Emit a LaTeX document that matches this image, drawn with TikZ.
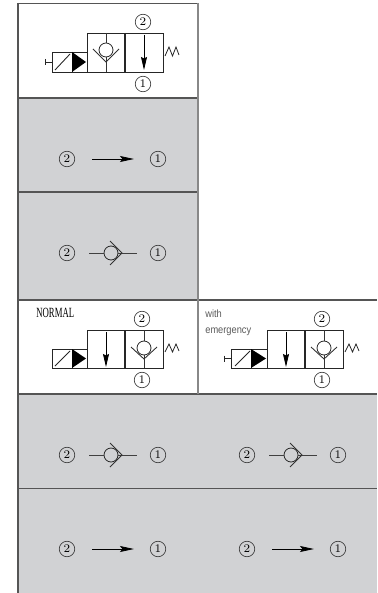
\documentclass[tikz,border=0pt]{standalone}
\usepackage{xcolor}
\usepackage{graphicx}
\usepackage{fontspec}
\usetikzlibrary{arrows.meta}
\newfontfamily\labelsans{Liberation Sans}
\newfontfamily\labelserif{Liberation Serif}
\definecolor{panelgrey}{HTML}{D1D2D4}
\definecolor{rulegrey}{HTML}{555555}
\tikzset{
  port/.style={draw=black!80, circle, line width=0.35pt, inner sep=0pt, minimum size=3.1mm, font=\fontsize{6.6}{6.6}\selectfont},
  ball/.style={draw=black!85, circle, line width=0.45pt, inner sep=0pt, minimum size=2.8mm},
  valve/.style={draw=black!85, line width=0.5pt},
  seat/.style={draw=black!80, line width=0.5pt},
  flowline/.style={draw=black, line width=0.45pt, -{Stealth[length=2.8mm, width=1.2mm, inset=0.5mm]}, shorten <=3.4mm, shorten >=3.2mm},
  stemline/.style={draw=black, line width=0.5pt, -{Stealth[length=2.6mm, width=1.2mm, inset=0.3mm]}},
  passline/.style={draw=black!75, line width=0.55pt},
  cellrule/.style={draw=rulegrey, line width=0.6pt}
}
\begin{document}
\begin{tikzpicture}[x=0.2mm, y=-0.2mm]
\useasboundingbox (0,0) rectangle (377,593);

% panels
\fill[panelgrey] (18,98) rectangle (198,300);
\fill[panelgrey] (18,394) rectangle (377,593);
\draw[cellrule] (18,3.5) -- (198,3.5);
\draw[cellrule] (18,98) -- (198,98);
\draw[cellrule] (18,192) -- (198,192);
\draw[cellrule] (18,300) -- (377,300);
\draw[cellrule] (18,394) -- (377,394);
\draw[cellrule] (18,488.5) -- (377,488.5);
\draw[cellrule, line width=0.85pt] (18,3) -- (18,593);
\draw[cellrule, line width=0.7pt, draw=rulegrey!70] (198,3) -- (198,394);

% top valve
\draw[valve] (87,33) rectangle (163,72);
\draw[valve, line width=0.9pt] (125,33) -- (125,72);
\draw[valve] (52,52) rectangle (87,72);
\draw[valve] (72,52) -- (72,72);
\draw[valve] (55,70) -- (70,54);
\fill (72,52) -- (86,62) -- (72,72) -- cycle;
\draw[valve] (52,62) -- (45,62) (45,59) -- (45,65);
\node[ball] (ball1) at (106,50) {};
\draw[seat] (93,49) -- (106,62) -- (119,49);
\draw[seat] (106,33) -- (ball1);
\draw[seat] (ball1) -- (106,72);
\draw[stemline] (144,35) -- (144,70);
\draw[valve, line width=0.45pt] (165,56) -- (169,47) -- (172.5,56) -- (176,47) -- (179,55);
\node[port] (p2a) at (143,22) {2};
\node[port] (p1a) at (143,84) {1};

% first row, open passage
\node[port] (p2b) at (67,159) {2};
\node[port] (p1b) at (158,159) {1};
\draw[flowline] (p2b) -- (p1b);

% second row, check valve
\node[port] (p2c) at (67,253) {2};
\node[port] (p1c) at (158,253) {1};
\node[ball] (ball2) at (111,253) {};
\draw[passline] (89,253) -- (ball2);
\draw[passline] (ball2) -- (137,253);
\draw[seat] (110,241) -- (122,253) -- (110,265);

% normal valve
\node[anchor=west, inner sep=0pt] (normal) at (36,313) {\scalebox{0.62}[1]{\labelserif\fontsize{8}{8}\selectfont NORMAL}};
\draw[valve] (87,330) rectangle (163,368);
\draw[valve, line width=0.9pt] (125,330) -- (125,368);
\draw[valve] (52,349) rectangle (87,368);
\draw[valve] (72,349) -- (72,368);
\draw[valve] (55,366) -- (70,351);
\fill (72,349) -- (86,358.5) -- (72,368) -- cycle;
\draw[stemline] (106,332) -- (106,367);
\node[ball] (ball3) at (144,348) {};
\draw[seat] (131,347) -- (144,359) -- (157,347);
\draw[seat] (144,330) -- (ball3);
\draw[seat] (ball3) -- (144,368);
\draw[valve, line width=0.45pt] (165,352) -- (169,344) -- (172.5,352) -- (176,344) -- (179,351);
\node[port] (p2d) at (142,319) {2};
\node[port] (p1d) at (142,380) {1};

% emergency valve
\node[anchor=north west, inner sep=0pt, align=left, text=black!65] (emerg) at (205,307) {\scalebox{0.88}[1]{\labelsans\fontsize{6}{8.6}\selectfont\begin{tabular}{@{}l@{}}with\\emergency\end{tabular}}};
\draw[valve] (267,330) rectangle (343,368);
\draw[valve, line width=0.9pt] (305,330) -- (305,368);
\draw[valve] (231,349) rectangle (267,368);
\draw[valve] (251,349) -- (251,368);
\draw[valve] (235,366) -- (250,351);
\fill (251,349) -- (266,358.5) -- (251,368) -- cycle;
\draw[valve] (231,358.5) -- (224,358.5) (224,355.5) -- (224,361.5);
\draw[stemline] (286,332) -- (286,367);
\node[ball] (ball4) at (324,348) {};
\draw[seat] (311,347) -- (324,359) -- (337,347);
\draw[seat] (324,330) -- (ball4);
\draw[seat] (ball4) -- (324,368);
\draw[valve, line width=0.45pt] (345,352) -- (349,344) -- (352.5,352) -- (356,344) -- (359,351);
\node[port] (p2e) at (322,319) {2};
\node[port] (p1e) at (322,380) {1};

% third row, check valves
\node[port] (p2f) at (67,455) {2};
\node[port] (p1f) at (158,455) {1};
\node[ball] (ball5) at (111,455) {};
\draw[passline] (89,455) -- (ball5);
\draw[passline] (ball5) -- (137,455);
\draw[seat] (110,443) -- (122,455) -- (110,467);
\node[port] (p2g) at (247,455) {2};
\node[port] (p1g) at (338,455) {1};
\node[ball] (ball6) at (291,455) {};
\draw[passline] (269,455) -- (ball6);
\draw[passline] (ball6) -- (317,455);
\draw[seat] (290,443) -- (302,455) -- (290,467);

% fourth row, open passages
\node[port] (p2h) at (67,549) {2};
\node[port] (p1h) at (158,549) {1};
\draw[flowline] (p2h) -- (p1h);
\node[port] (p2i) at (247,549) {2};
\node[port] (p1i) at (338,549) {1};
\draw[flowline] (p2i) -- (p1i);
\end{tikzpicture}
\end{document}
